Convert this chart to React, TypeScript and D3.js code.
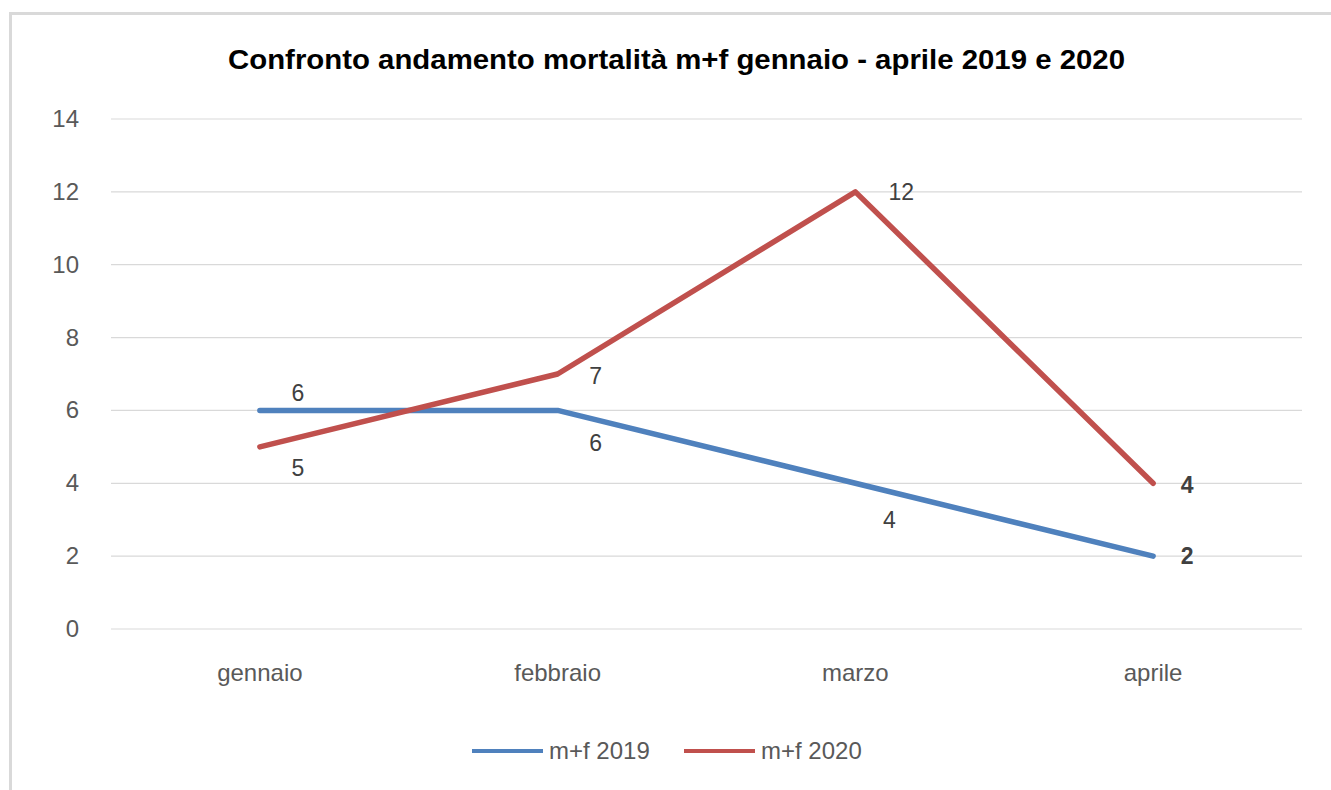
import React from "react";
import * as d3 from "d3";

const categories = ["gennaio", "febbraio", "marzo", "aprile"];
const series2019 = [6, 6, 4, 2];
const series2020 = [5, 7, 12, 4];
const yTicks = [0, 2, 4, 6, 8, 10, 12, 14];
const seriesNames = ["m+f 2019", "m+f 2020"];
const seriesColors = ["#4f81bd", "#c0504d"];
const title = "Confronto andamento mortalità m+f gennaio - aprile 2019 e 2020";

// label placement per point: [dx, dy] offsets (label centre relative to point)
const labelPos2019 = [
  [38, -17],
  [38, 33],
  [34, 37],
  [34, 0],
];
const labelPos2020 = [
  [38, 21],
  [38, 2],
  [46, 0],
  [34, 2],
];

export default function App() {
  const W = 1331;
  const H = 790;
  const x = d3.scaleBand<string>().domain(categories).range([111, 1302]);
  const y = d3.scaleLinear().domain([0, 14]).range([629, 119]);
  const cx = (c: string) => (x(c) as number) + x.bandwidth() / 2;
  const line = d3
    .line<number>()
    .x((_, i) => cx(categories[i]))
    .y((d) => y(d));
  const font = "Liberation Sans, Arial, sans-serif";
  const allSeries = [series2019, series2020];
  const labelPos = [labelPos2019, labelPos2020];
  return (
    <svg
      width={W}
      height={H}
      style={{ position: "absolute", left: 0, top: 0, background: "#fff" }}
      fontFamily={font}
    >
      <rect x={9} y={12} width={W - 9} height={3} fill="#d9d9d9" />
      <rect x={9} y={12} width={3} height={H - 12} fill="#d9d9d9" />
      <text
        x={676.5}
        y={69}
        textAnchor="middle"
        fontSize={27}
        fontWeight="bold"
        fill="#000"
        textLength={897}
        lengthAdjust="spacingAndGlyphs"
      >
        {title}
      </text>
      {yTicks.map((t) => (
        <g key={t}>
          <line
            x1={111}
            x2={1302}
            y1={y(t)}
            y2={y(t)}
            stroke="#d9d9d9"
            strokeWidth={1.2}
          />
          <text
            x={79}
            y={y(t) + 8}
            textAnchor="end"
            fontSize={24}
            fill="#595959"
          >
            {t}
          </text>
        </g>
      ))}
      {categories.map((c) => (
        <text
          key={c}
          x={cx(c)}
          y={681}
          textAnchor="middle"
          fontSize={24}
          fill="#595959"
        >
          {c}
        </text>
      ))}
      {allSeries.map((s, si) => (
        <path
          key={si}
          d={line(s) || ""}
          fill="none"
          stroke={seriesColors[si]}
          strokeWidth={5.5}
          strokeLinejoin="round"
          strokeLinecap="round"
        />
      ))}
      {allSeries.map((s, si) =>
        s.map((v, i) => (
          <text
            key={`${si}-${i}`}
            x={cx(categories[i]) + labelPos[si][i][0]}
            y={y(v) + labelPos[si][i][1] + 8}
            textAnchor="middle"
            fontSize={23}
            fill="#404040"
            fontWeight={i === 3 ? "bold" : "normal"}
          >
            {v}
          </text>
        ))
      )}
      {seriesNames.map((n, i) => {
        const lx = [472, 684][i];
        return (
          <g key={n}>
            <line
              x1={lx}
              x2={lx + 71}
              y1={751}
              y2={751}
              stroke={seriesColors[i]}
              strokeWidth={4}
            />
            <text x={lx + 77} y={759} fontSize={24} fill="#595959">
              {n}
            </text>
          </g>
        );
      })}
    </svg>
  );
}
